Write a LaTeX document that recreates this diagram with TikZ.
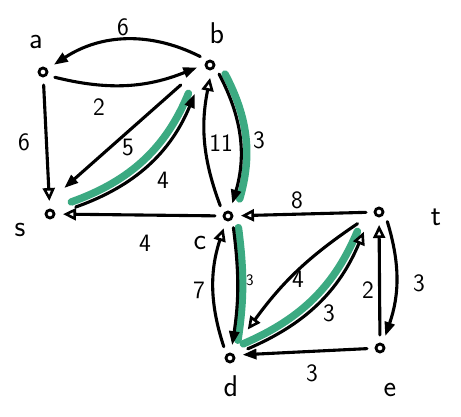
\documentclass[tikz,border=0pt]{standalone}
\usetikzlibrary{arrows.meta}
\definecolor{hlgreen}{RGB}{60,170,130}
\begin{document}
\begin{tikzpicture}[x=1pt,y=-1pt,
  dot/.style={circle, draw, line width=2.8pt, minimum size=8pt, inner sep=0pt, outer sep=6pt},
  edge/.style={line width=3.1pt, line cap=round, shorten >=3pt, shorten <=3pt},
  openar/.style={-{Triangle[open,length=13pt,width=12pt,line width=2.6pt]}},
  fullar/.style={-{Triangle[length=14pt,width=10pt]}},
  hl/.style={line width=7.5pt, color=hlgreen, line cap=round, shorten >=8pt, shorten <=3pt},
  lab/.style={font=\sffamily\fontsize{25}{25}\selectfont, inner sep=0pt},
  nlab/.style={font=\sffamily\fontsize{30}{30}\selectfont, inner sep=0pt}]
\useasboundingbox (0,0) rectangle (461,417);
% vertices
\node[dot] (a) at (43,72) {};
\node[dot] (b) at (210,65) {};
\node[dot] (s) at (50,214) {};
\node[dot] (c) at (228,216) {};
\node[dot] (t) at (379,212) {};
\node[dot] (d) at (230,358) {};
\node[dot] (e) at (380,348) {};
% vertex names
\node[nlab] (la) at (36,42) {a};
\node[nlab] (lb) at (217,33) {b};
\node[nlab] (ls) at (20,230) {s};
\node[nlab] (lc) at (200,243) {c};
\node[nlab] (lt) at (436,217) {t};
\node[nlab] (ld) at (231,386) {d};
\node[nlab] (le) at (390,390) {e};
% green highlights
\draw[hl, transform canvas={xshift=-4.5pt,yshift=5pt}] ([shift={(23,-6)}]s.center) to[bend right=24] ([shift={(-14,26)}]b.center);
\draw[hl, transform canvas={xshift=6pt}] (b.320) to[bend left=22] (c.70);
\draw[hl, transform canvas={xshift=5pt}] (c.300) to[bend left=8] (d.80);
\draw[hl, transform canvas={xshift=-4.5pt,yshift=5pt}] ([shift={(15,-8)}]d.center) to[bend right=22] ([shift={(-14,17)}]t.center);
% edges
\draw[edge, fullar] (b.135) to[bend right=30] (a.34);
\draw[edge, fullar] (a.333) to[bend right=18] (b.187);
\draw[edge, openar] (a) -- (s);
\draw[edge, fullar] ([shift={(-27,18)}]b.center) -- ([shift={(12,-24)}]s.center);
\draw[edge, fullar] ([shift={(23,-6)}]s.center) to[bend right=24] ([shift={(-14,26)}]b.center);
\draw[edge, openar] (c.132) to[bend left=16] (b.274);
\draw[edge, fullar] (b.320) to[bend left=22] (c.70);
\draw[edge, openar] (c) -- (s);
\draw[edge, openar] (t) -- (c);
\draw[edge, openar] (d.122) to[bend left=18] (c.250);
\draw[edge, fullar] (c.300) to[bend left=8] (d.80);
\draw[edge, openar] ([shift={(-19,10)}]t.center) to[bend right=10] ([shift={(16,-26)}]d.center);
\draw[edge, openar] ([shift={(15,-8)}]d.center) to[bend right=22] ([shift={(-14,17)}]t.center);
\draw[edge, openar] (e) -- (t);
\draw[edge, fullar] (t.318) to[bend left=18] (e.65);
\draw[edge, fullar] (e) -- (d.18);
% weights
\node[lab] (w1) at (123,27) {6};
\node[lab] (w2) at (99,107) {2};
\node[lab] (w3) at (24,142) {6};
\node[lab] (w4) at (128,148) {5};
\node[lab] (w5) at (163,180) {4};
\node[lab] (w6) at (221,143) {11};
\node[lab] (w7) at (259,140) {3};
\node[lab] (w8) at (145,243) {4};
\node[lab] (w9) at (297,200) {8};
\node[lab] (w10) at (199,290) {7};
\node[lab, font=\sffamily\fontsize{16}{16}\selectfont] (w11) at (250,280) {3};
\node[lab] (w12) at (298,279) {4};
\node[lab] (w13) at (329,313) {3};
\node[lab] (w14) at (368,290) {2};
\node[lab] (w15) at (419,283) {3};
\node[lab] (w16) at (312,373) {3};
\end{tikzpicture}
\end{document}
